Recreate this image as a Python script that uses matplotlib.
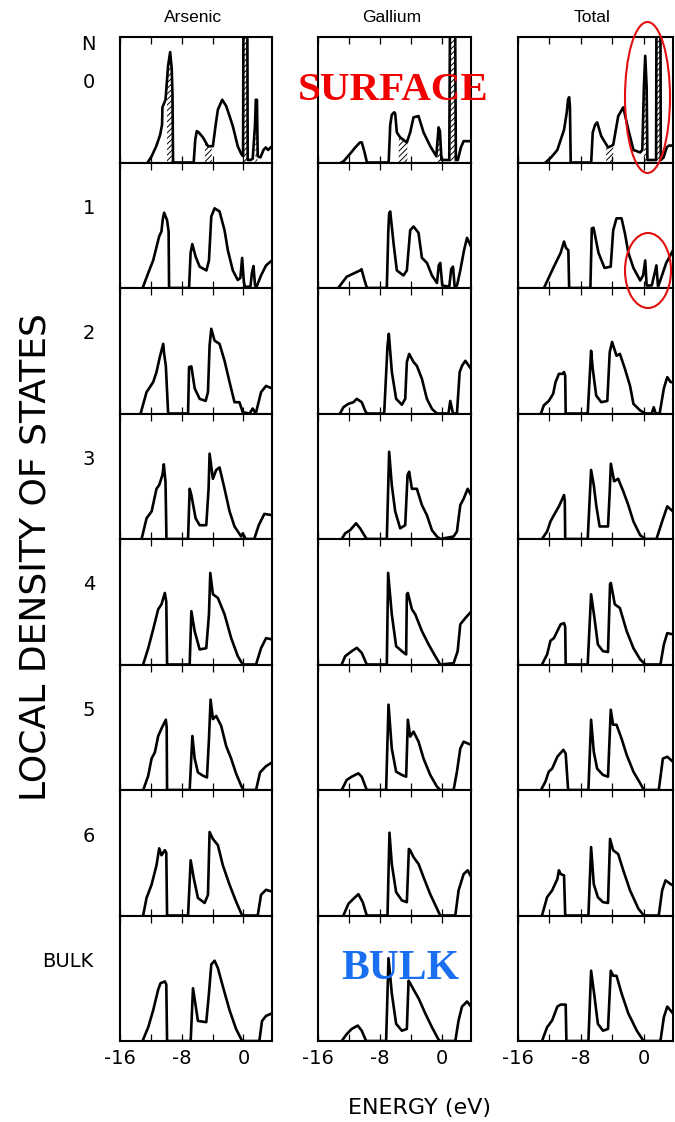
import numpy as np
import matplotlib
matplotlib.use("Agg")
import matplotlib.pyplot as plt
from matplotlib.patches import Ellipse

plt.rcParams['font.family'] = ['DejaVu Sans']
plt.rcParams['axes.unicode_minus'] = False
plt.rcParams['hatch.linewidth'] = 0.7

# ---------------------------------------------------------------- data
columns = ["Arsenic", "Gallium", "Total"]
layers = ["0", "1", "2", "3", "4", "5", "6", "BULK"]
energy_labels = [-16, -8, 0]
energy_minor = [-12, -4]
energy_range = (-16.0, 3.7)

# local density of states, (energy eV, LDOS arb. units) per layer
arsenic_0 = [(-12.4, 0), (-11.9, 0.05), (-11.3, 0.13), (-10.8, 0.22), (-10.55, 0.30), (-10.5, 0.44),
             (-10.1, 0.50), (-9.77, 0.77), (-9.5, 0.88), (-9.3, 0.75), (-9.2, 0.55), (-9.12, 0),
             (-6.45, 0), (-6.25, 0.18), (-6.05, 0.25), (-5.8, 0.24), (-5.25, 0.20), (-4.6, 0.13),
             (-3.96, 0.13), (-3.6, 0.30), (-3.32, 0.42), (-2.75, 0.50), (-2.24, 0.45), (-1.8, 0.37),
             (-1.38, 0.29), (-0.74, 0.13), (-0.3, 0.07), (-0.05, 0.05), (0.0, 1.2), (0.5, 1.2),
             (0.55, 0.02), (0.9, 0.02), (1.2, 0.03), (1.5, 0.3), (1.6, 0.5), (1.75, 0.5), (1.85, 0.05),
             (2.2, 0.04), (2.6, 0.10), (2.9, 0.12), (3.2, 0.10), (3.7, 0.13)]
gallium_0 = [(-13.0, 0), (-12.7, 0.01), (-12.0, 0.06), (-11.2, 0.12), (-10.6, 0.16), (-10.36, 0.16),
             (-10.0, 0.08), (-9.7, 0), (-6.9, 0), (-6.7, 0.30), (-6.5, 0.38), (-6.2, 0.40), (-6.06, 0.39),
             (-5.85, 0.24), (-5.42, 0.20), (-4.56, 0.16), (-4.13, 0.24), (-3.7, 0.36), (-3.06, 0.37),
             (-2.41, 0.24), (-1.55, 0.13), (-0.77, 0.05), (-0.6, 0.18), (-0.47, 0.28), (-0.3, 0.25),
             (-0.1, 0.02), (0.9, 0.02), (1.0, 1.2), (1.65, 1.2), (1.75, 0.02), (2.0, 0.02), (2.4, 0.12),
             (2.75, 0.17), (3.7, 0.17)]
total_0 = [(-12.5, 0), (-11.8, 0.04), (-11.0, 0.10), (-10.15, 0.26), (-9.8, 0.40), (-9.64, 0.50),
           (-9.5, 0.52), (-9.4, 0.45), (-9.3, 0), (-6.7, 0), (-6.5, 0.24), (-6.2, 0.30), (-5.94, 0.32),
           (-5.42, 0.21), (-4.55, 0.12), (-3.9, 0.14), (-3.26, 0.37), (-2.62, 0.44), (-1.97, 0.26),
           (-1.33, 0.10), (-0.47, 0.08), (-0.2, 0.10), (0.0, 0.6), (0.17, 0.85), (0.35, 0.6),
           (0.45, 0.02), (1.55, 0.02), (1.6, 1.2), (2.1, 1.2), (2.15, 0.02), (2.5, 0.04), (2.9, 0.12),
           (3.19, 0.135), (3.7, 0.135)]

arsenic_1 = [(-13.07, 0), (-12.4, 0.11), (-11.7, 0.22), (-10.93, 0.41), (-10.63, 0.45), (-10.45, 0.55),
             (-10.28, 0.60), (-9.9, 0.54), (-9.7, 0.45), (-9.64, 0), (-7.05, 0), (-6.85, 0.28),
             (-6.63, 0.35), (-6.2, 0.25), (-5.68, 0.17), (-4.8, 0.14), (-4.47, 0.22), (-4.17, 0.57),
             (-3.74, 0.635), (-3.1, 0.61), (-2.45, 0.46), (-2.02, 0.30), (-1.38, 0.14), (-0.74, 0.064),
             (-0.4, 0.08), (-0.17, 0.24), (0.05, 0.05), (0.2, 0.01), (0.9, 0.01), (1.1, 0.12),
             (1.3, 0.175), (1.5, 0.02), (1.7, 0.01), (2.28, 0.10), (2.93, 0.18), (3.7, 0.22)]
gallium_1 = [(-13.4, 0), (-12.3, 0.09), (-10.58, 0.14), (-10.4, 0.15), (-10.0, 0.06), (-9.7, 0),
             (-7.14, 0), (-6.95, 0.45), (-6.84, 0.595), (-6.7, 0.61), (-6.28, 0.36), (-5.85, 0.14),
             (-5.0, 0.10), (-4.56, 0.14), (-4.13, 0.46), (-3.7, 0.49), (-3.06, 0.44), (-2.62, 0.24),
             (-1.97, 0.20), (-1.33, 0.10), (-0.68, 0.04), (-0.45, 0.18), (-0.26, 0.20), (0.0, 0.02),
             (0.9, 0.01), (1.15, 0.15), (1.38, 0.17), (1.6, 0.01), (1.9, 0.02), (2.32, 0.14),
             (2.8, 0.30), (3.19, 0.40), (3.7, 0.33)]
total_1 = [(-12.7, 0), (-11.44, 0.17), (-10.58, 0.28), (-10.15, 0.37), (-9.9, 0.32), (-9.6, 0.30),
           (-9.5, 0), (-6.8, 0), (-6.62, 0.475), (-6.4, 0.48), (-5.77, 0.28), (-5.0, 0.16),
           (-4.22, 0.17), (-3.9, 0.46), (-3.48, 0.555), (-2.84, 0.555), (-2.41, 0.435), (-1.97, 0.28),
           (-1.33, 0.16), (-0.47, 0.06), (-0.1, 0.10), (0.17, 0.22), (0.35, 0.02), (1.0, 0.02),
           (1.3, 0.10), (1.59, 0.18), (1.8, 0.01), (2.3, 0.10), (2.84, 0.20), (3.7, 0.30)]

arsenic_2 = [(-13.33, 0), (-12.56, 0.17), (-11.7, 0.25), (-11.27, 0.33), (-10.84, 0.45), (-10.4, 0.555),
             (-10.28, 0.475), (-10.06, 0.38), (-9.76, 0), (-7.18, 0), (-7.05, 0.37), (-6.75, 0.375),
             (-6.32, 0.20), (-5.68, 0.117), (-4.9, 0.10), (-4.6, 0.17), (-4.39, 0.54), (-4.17, 0.675),
             (-3.74, 0.58), (-3.1, 0.555), (-2.45, 0.42), (-1.8, 0.25), (-1.16, 0.09), (-0.52, 0.09),
             (-0.09, 0.01), (0.8, 0.0), (1.2, 0.04), (1.6, 0.0), (2.28, 0.17), (2.93, 0.22), (3.7, 0.20)]
gallium_2 = [(-13.16, 0), (-12.73, 0.05), (-12.09, 0.077), (-11.44, 0.09), (-11.0, 0.117),
             (-10.37, 0.09), (-9.94, 0.024), (-9.72, 0), (-7.48, 0), (-7.05, 0.54), (-6.88, 0.635),
             (-6.49, 0.33), (-5.94, 0.117), (-5.2, 0.07), (-4.77, 0.117), (-4.56, 0.41), (-4.26, 0.475),
             (-3.7, 0.41), (-3.27, 0.38), (-2.62, 0.276), (-1.98, 0.117), (-1.33, 0.037), (-0.69, 0),
             (0.8, 0), (1.03, 0.10), (1.38, 0), (1.89, 0), (2.24, 0.33), (2.54, 0.38), (2.97, 0.42),
             (3.7, 0.356)]
total_2 = [(-13.08, 0), (-12.73, 0.064), (-12.09, 0.10), (-11.53, 0.157), (-11.23, 0.25), (-10.8, 0.316),
           (-10.37, 0.316), (-10.15, 0.33), (-10.0, 0.3), (-9.94, 0), (-7.14, 0), (-6.71, 0.50),
           (-6.5, 0.356), (-6.06, 0.143), (-5.42, 0.09), (-4.65, 0.10), (-4.34, 0.49), (-4.04, 0.57),
           (-3.48, 0.46), (-3.05, 0.475), (-2.41, 0.356), (-1.76, 0.22), (-1.33, 0.077), (-0.47, 0.024),
           (0.2, 0), (1.0, 0.0), (1.25, 0.05), (1.5, 0), (2.0, 0), (2.54, 0.20), (2.97, 0.29),
           (3.4, 0.25), (3.7, 0.25)]

arsenic_3 = [(-13.2, 0), (-12.56, 0.165), (-11.9, 0.22), (-11.27, 0.40), (-10.92, 0.43), (-10.5, 0.51),
             (-10.32, 0.595), (-10.1, 0.45), (-9.98, 0), (-7.18, 0), (-6.97, 0.40), (-6.75, 0.35),
             (-6.2, 0.165), (-5.68, 0.11), (-4.82, 0.11), (-4.52, 0.40), (-4.39, 0.68), (-3.96, 0.48),
             (-3.53, 0.55), (-3.1, 0.57), (-2.45, 0.40), (-1.8, 0.22), (-1.16, 0.10), (-0.3, 0.02),
             (-0.09, 0.045), (0.3, 0), (1.4, 0), (1.98, 0.11), (2.71, 0.20), (3.7, 0.19)]
gallium_3 = [(-12.95, 0), (-12.5, 0.045), (-11.87, 0.07), (-11.1, 0.125), (-10.58, 0.085), (-9.94, 0.02),
             (-9.72, 0), (-7.14, 0), (-6.84, 0.695), (-6.5, 0.43), (-6.06, 0.22), (-5.42, 0.085),
             (-4.77, 0.11), (-4.47, 0.51), (-4.26, 0.536), (-3.91, 0.40), (-3.27, 0.40), (-2.62, 0.27),
             (-1.98, 0.19), (-1.33, 0.07), (-0.69, 0.02), (-0.26, 0), (1.46, 0.02), (1.89, 0.06),
             (2.32, 0.27), (2.75, 0.32), (3.27, 0.40), (3.7, 0.35)]
total_3 = [(-12.95, 0), (-12.3, 0.06), (-11.87, 0.14), (-11.44, 0.19), (-10.8, 0.26), (-10.15, 0.35),
           (-10.05, 0.3), (-10.0, 0), (-7.14, 0), (-6.71, 0.55), (-6.37, 0.43), (-6.06, 0.27),
           (-5.63, 0.10), (-4.56, 0.10), (-4.34, 0.38), (-4.2, 0.60), (-3.78, 0.46), (-3.27, 0.48),
           (-2.62, 0.38), (-1.98, 0.27), (-1.33, 0.14), (-0.47, 0.03), (0.2, 0), (1.6, 0),
           (2.32, 0.14), (2.97, 0.26), (3.7, 0.22)]

arsenic_4 = [(-13.0, 0), (-12.34, 0.13), (-11.7, 0.28), (-11.05, 0.44), (-10.62, 0.48), (-10.19, 0.57),
             (-10.0, 0.5), (-9.9, 0), (-6.97, 0), (-6.75, 0.425), (-6.32, 0.265), (-5.68, 0.12),
             (-4.82, 0.13), (-4.47, 0.40), (-4.3, 0.73), (-3.96, 0.56), (-3.31, 0.53), (-2.45, 0.40),
             (-1.59, 0.21), (-0.73, 0.066), (-0.09, 0), (1.63, 0), (2.28, 0.13), (2.93, 0.21), (3.7, 0.20)]
gallium_4 = [(-12.95, 0), (-12.5, 0.066), (-11.66, 0.106), (-11.0, 0.133), (-10.37, 0.093), (-9.72, 0),
             (-7.14, 0), (-6.97, 0.73), (-6.5, 0.40), (-5.94, 0.146), (-5.2, 0.106), (-4.65, 0.08),
             (-4.56, 0.56), (-4.43, 0.57), (-3.91, 0.44), (-3.48, 0.40), (-2.62, 0.266), (-1.76, 0.16),
             (-0.9, 0.066), (-0.26, 0), (1.46, 0.01), (1.98, 0.106), (2.32, 0.32), (2.97, 0.37),
             (3.7, 0.42)]
total_4 = [(-12.95, 0), (-12.3, 0.08), (-11.87, 0.19), (-11.44, 0.21), (-10.58, 0.32), (-10.15, 0.33),
           (-10.0, 0.3), (-9.94, 0), (-7.14, 0), (-6.71, 0.56), (-6.28, 0.37), (-5.85, 0.16),
           (-5.2, 0.106), (-4.56, 0.10), (-4.3, 0.64), (-4.2, 0.65), (-3.7, 0.48), (-3.05, 0.45),
           (-2.19, 0.266), (-1.33, 0.13), (-0.47, 0.04), (0.2, 0), (2.1, 0), (2.54, 0.16), (2.97, 0.25),
           (3.7, 0.24)]

arsenic_5 = [(-12.99, 0), (-12.34, 0.114), (-11.91, 0.25), (-11.48, 0.30), (-11.05, 0.43), (-10.62, 0.49),
             (-10.06, 0.56), (-9.95, 0.5), (-9.9, 0), (-6.97, 0), (-6.62, 0.43), (-6.32, 0.25),
             (-5.9, 0.14), (-5.25, 0.114), (-4.73, 0.10), (-4.47, 0.405), (-4.26, 0.72), (-3.96, 0.565),
             (-3.53, 0.59), (-2.88, 0.51), (-2.24, 0.35), (-1.59, 0.25), (-0.95, 0.13), (-0.3, 0.035),
             (0.0, 0), (1.63, 0), (2.15, 0.14), (2.93, 0.19), (3.7, 0.22)]
gallium_5 = [(-12.95, 0), (-12.3, 0.08), (-11.66, 0.106), (-10.8, 0.133), (-10.37, 0.106), (-9.72, 0),
             (-7.23, 0), (-6.92, 0.68), (-6.5, 0.33), (-5.94, 0.146), (-5.2, 0.12), (-4.65, 0.106),
             (-4.43, 0.56), (-4.13, 0.425), (-3.7, 0.465), (-3.05, 0.385), (-2.41, 0.25), (-1.55, 0.12),
             (-0.69, 0.027), (-0.26, 0), (1.46, 0), (1.89, 0.146), (2.32, 0.33), (2.75, 0.385),
             (3.7, 0.36)]
total_5 = [(-13.08, 0), (-12.52, 0.066), (-12.09, 0.146), (-11.66, 0.17), (-11.0, 0.265), (-10.24, 0.32),
           (-9.94, 0.29), (-9.63, 0), (-7.05, 0), (-6.71, 0.56), (-6.37, 0.305), (-5.94, 0.17),
           (-5.2, 0.12), (-4.56, 0.106), (-4.21, 0.64), (-3.91, 0.52), (-3.48, 0.52), (-2.84, 0.41),
           (-2.19, 0.28), (-1.33, 0.146), (-0.47, 0.053), (0.0, 0), (1.89, 0), (2.41, 0.25),
           (2.97, 0.265), (3.7, 0.225)]

arsenic_6 = [(-13.0, 0), (-12.56, 0.14), (-11.91, 0.245), (-11.27, 0.40), (-10.92, 0.535), (-10.62, 0.48),
             (-10.19, 0.52), (-10.0, 0.5), (-9.9, 0), (-7.18, 0), (-6.84, 0.44), (-6.45, 0.30),
             (-5.9, 0.14), (-5.03, 0.10), (-4.6, 0.165), (-4.39, 0.665), (-3.96, 0.61), (-3.31, 0.56),
             (-2.67, 0.40), (-1.8, 0.245), (-0.95, 0.11), (-0.17, 0), (1.85, 0), (2.28, 0.165),
             (2.93, 0.205), (3.7, 0.19)]
gallium_6 = [(-12.73, 0), (-12.09, 0.093), (-11.44, 0.133), (-10.8, 0.17), (-10.24, 0.106), (-9.72, 0),
             (-7.05, 0), (-6.8, 0.66), (-6.5, 0.41), (-5.94, 0.186), (-5.2, 0.12), (-4.56, 0.106),
             (-4.3, 0.53), (-4.13, 0.52), (-3.7, 0.465), (-3.05, 0.41), (-2.41, 0.305), (-1.55, 0.17),
             (-0.47, 0.027), (-0.26, 0), (1.68, 0), (2.1, 0.2), (2.75, 0.33), (3.27, 0.36), (3.7, 0.31)]
total_6 = [(-12.95, 0), (-12.3, 0.146), (-11.66, 0.2), (-11.0, 0.29), (-10.8, 0.36), (-10.58, 0.33),
           (-10.15, 0.32), (-10.0, 0), (-7.05, 0), (-6.71, 0.545), (-6.37, 0.25), (-5.85, 0.146),
           (-5.2, 0.106), (-4.56, 0.10), (-4.3, 0.61), (-3.91, 0.52), (-3.27, 0.49), (-2.62, 0.36),
           (-1.76, 0.2), (-0.69, 0.053), (0.0, 0), (1.89, 0), (2.32, 0.2), (2.75, 0.28), (3.4, 0.25),
           (3.7, 0.24)]

arsenic_bulk = [(-13.08, 0), (-12.34, 0.11), (-11.7, 0.245), (-11.05, 0.41), (-10.75, 0.46),
                (-10.19, 0.475), (-10.0, 0.45), (-9.9, 0), (-6.84, 0), (-6.54, 0.42), (-6.24, 0.30),
                (-5.9, 0.16), (-4.82, 0.15), (-4.47, 0.38), (-4.17, 0.61), (-3.74, 0.64), (-3.31, 0.58),
                (-2.67, 0.435), (-1.8, 0.245), (-0.95, 0.095), (-0.17, 0), (2.06, 0), (2.41, 0.16),
                (2.93, 0.20), (3.7, 0.22)]
gallium_bulk = [(-12.95, 0), (-12.3, 0.055), (-11.66, 0.096), (-10.88, 0.123), (-10.37, 0.082), (-9.8, 0),
                (-7.23, 0), (-6.92, 0.66), (-6.5, 0.38), (-5.94, 0.137), (-5.2, 0.082), (-4.56, 0.096),
                (-4.34, 0.48), (-4.13, 0.46), (-3.7, 0.41), (-3.05, 0.34), (-2.19, 0.22), (-1.33, 0.11),
                (-0.47, 0.01), (-0.26, 0), (1.68, 0), (2.1, 0.164), (2.54, 0.274), (3.19, 0.315),
                (3.7, 0.274)]
total_bulk = [(-12.95, 0), (-12.3, 0.11), (-11.66, 0.164), (-11.0, 0.274), (-10.58, 0.29), (-9.94, 0.29),
              (-9.85, 0), (-7.05, 0), (-6.71, 0.56), (-6.28, 0.356), (-5.85, 0.137), (-5.2, 0.082),
              (-4.56, 0.096), (-4.21, 0.56), (-3.91, 0.52), (-3.48, 0.52), (-2.84, 0.38), (-1.98, 0.22),
              (-0.9, 0.082), (-0.04, 0), (2.1, 0), (2.54, 0.19), (2.97, 0.274), (3.7, 0.22)]

# energy windows of the surface-layer states shown hatched
arsenic_0_hatch = [(-9.9, -9.12), (-5.0, -4.1), (0.0, 0.5), (1.55, 1.8)]
gallium_0_hatch = [(-5.6, -4.5), (-0.6, -0.1), (1.0, 1.65)]
total_0_hatch = [(-4.8, -3.9), (0.0, 0.4), (1.6, 2.1)]

ldos = [
    [arsenic_0, gallium_0, total_0],
    [arsenic_1, gallium_1, total_1],
    [arsenic_2, gallium_2, total_2],
    [arsenic_3, gallium_3, total_3],
    [arsenic_4, gallium_4, total_4],
    [arsenic_5, gallium_5, total_5],
    [arsenic_6, gallium_6, total_6],
    [arsenic_bulk, gallium_bulk, total_bulk],
]
surface_hatch = [arsenic_0_hatch, gallium_0_hatch, total_0_hatch]

# ---------------------------------------------------------------- layout (pixels)
W, H = 675, 1122
fig = plt.figure(figsize=(W / 100, H / 100), dpi=100)
fig.patch.set_facecolor("white")

col_left = [120, 318, 518]
col_width = [152, 153, 155]
grid_top, row_h = 37.0, 125.5


def fx(x):
    return x / W


def fy(y):
    return 1 - y / H


def hatch_fill(ax, e, d, lo, hi):
    inside = (e > lo) & (e < hi)
    xs = np.concatenate([[lo], e[inside], [hi]])
    ys = np.concatenate([[np.interp(lo, e, d)], d[inside], [np.interp(hi, e, d)]])
    ax.fill_between(xs, 0, ys, facecolor="none", edgecolor="black",
                    hatch="//////", linewidth=0)


for r, row in enumerate(ldos):
    for c, pts in enumerate(row):
        top = grid_top + r * row_h
        ax = fig.add_axes([fx(col_left[c]), fy(top + row_h), col_width[c] / W, row_h / H])
        e = np.array([p[0] for p in pts])
        d = np.array([p[1] for p in pts])
        ax.plot(e, d, color="black", lw=1.9, solid_joinstyle="round")
        if r == 0:
            for lo, hi in surface_hatch[c]:
                hatch_fill(ax, e, d, lo, hi)
        ax.set_xlim(*energy_range)
        ax.set_ylim(0, 1)
        ax.set_yticks([])
        ax.set_xticks(energy_labels)
        ax.set_xticks(energy_minor, minor=True)
        ax.tick_params(axis="x", which="both", direction="in", top=True, bottom=True,
                       length=5, width=0.9, pad=6, labelsize=14)
        if r != len(ldos) - 1:
            ax.set_xticklabels([])
        for s in ax.spines.values():
            s.set_linewidth(1.5)

# column titles
for c, name in enumerate(columns):
    fig.text(fx(col_left[c] + col_width[c] / 2 - 3), fy(17), name, ha="center", va="center",
             fontsize=12.5, family="Liberation Sans")

# layer labels
fig.text(fx(88), fy(45), "N", ha="center", va="center", fontsize=14)
for r, lab in enumerate(layers):
    x = 68 if lab == "BULK" else 89
    fig.text(fx(x), fy(grid_top + r * row_h + 46), lab, ha="center", va="center", fontsize=14)

fig.text(fx(36), fy(557), "LOCAL DENSITY OF STATES", rotation=90, ha="center", va="center",
         fontsize=26)
fig.text(fx(420), fy(1108), "ENERGY (eV)", ha="center", va="center", fontsize=16)

# annotations
fig.text(fx(393), fy(91), "SURFACE", ha="center", va="center", color="#f20000",
         fontsize=29.5, fontweight="bold", family="Liberation Serif")
fig.text(fx(400), fy(969), "BULK", ha="center", va="center", color="#1a6ff0",
         fontsize=30, fontweight="bold", family="Liberation Serif")

fig.add_artist(Ellipse((fx(647.5), fy(97.5)), 45 / W, 151 / H, transform=fig.transFigure,
                       fill=False, edgecolor="#e01010", lw=1.5))
fig.add_artist(Ellipse((fx(648), fy(270.5)), 46 / W, 75 / H, transform=fig.transFigure,
                       fill=False, edgecolor="#e01010", lw=1.5))

fig.savefig("out.png", dpi=100, facecolor="white")
